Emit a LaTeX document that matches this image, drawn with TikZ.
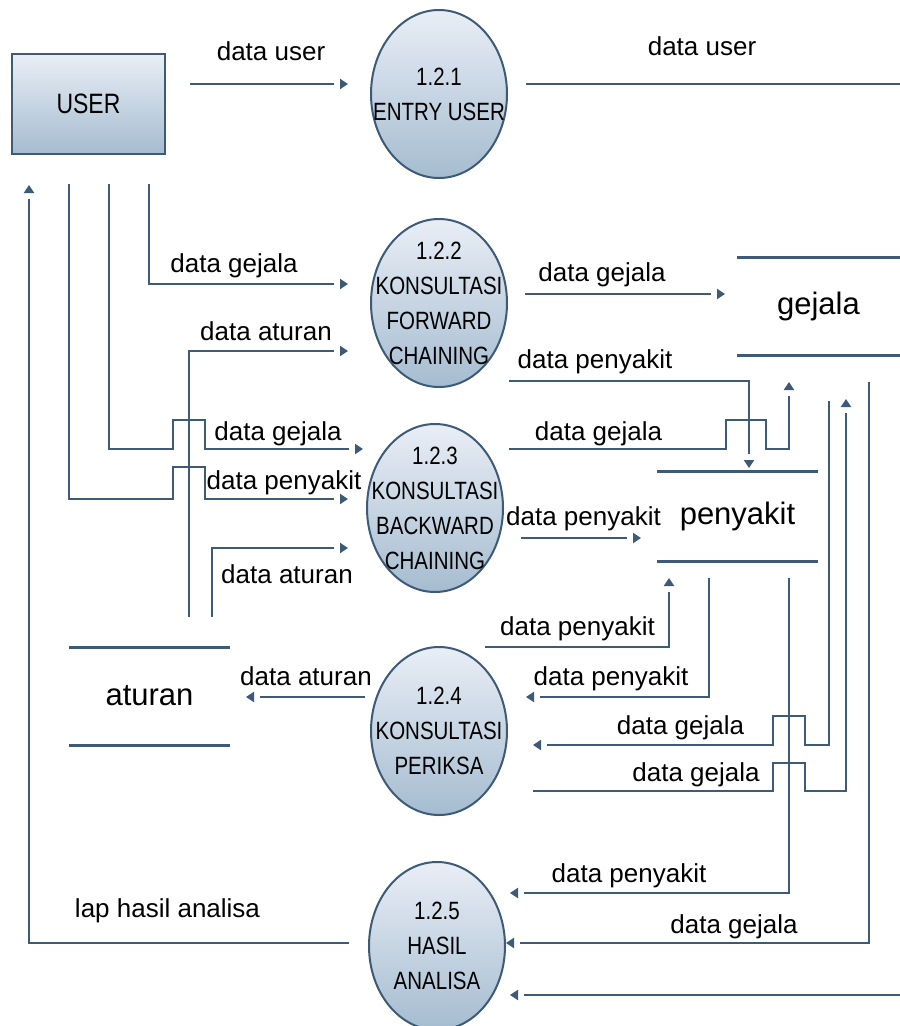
\documentclass[tikz,border=0pt]{standalone}
\usepackage{fontspec}
\setmainfont{Liberation Sans}
\newfontfamily\narrowfont[FakeStretch=0.82]{Liberation Sans}
\usetikzlibrary{shapes.geometric,arrows.meta,calc}
\definecolor{flowc}{RGB}{61,90,118}
\definecolor{shadetop}{RGB}{233,238,246}
\definecolor{shadebot}{RGB}{165,188,208}
\tikzset{
  process/.style={ellipse, draw=flowc, line width=2pt, top color=shadetop, bottom color=shadebot,
    minimum width=136pt, minimum height=168pt, inner sep=0pt, outer sep=0pt},
  proctext/.style={font=\narrowfont\fontsize{25}{35}\selectfont, align=center, inner sep=0pt},
  entity/.style={rectangle, draw=flowc, line width=2.5pt, top color=shadetop, bottom color=shadebot,
    minimum width=153pt, minimum height=100pt, outer sep=0pt, font=\narrowfont\fontsize{28}{30}\selectfont},
  store/.style={rectangle, minimum height=98pt, inner sep=0pt, outer sep=0pt, font=\fontsize{31}{33}\selectfont},
  storeline/.style={draw=flowc, line width=3pt},
  % the line stops short of its end; the head is drawn alone at the true end
  flow/.style={draw=flowc, line width=2.2pt, shorten >=14pt,
    postaction={draw=flowc, shorten >=0pt, dash pattern=on 0pt off 5000pt,
      -{Triangle[length=8pt,width=10pt]}}},
  wire/.style={draw=flowc, line width=2.2pt},
  flowlabel/.style={anchor=base, inner sep=0pt, font=\fontsize{26}{28}\selectfont},
}
\begin{document}
\begin{tikzpicture}[x=1pt,y=1pt]
\path[fill=white, use as bounding box] (0,0) rectangle (900,-1026);

% external entity
\node[entity] (user) at (88.5,-104) {USER};

% processes
\node[process, label={[proctext]center:{1.2.1\\ENTRY USER}}] (p121) at (439,-94) {};
\node[process, label={[proctext]center:{1.2.2\\KONSULTASI\\FORWARD\\CHAINING}}] (p122) at (439,-303) {};
\node[process, label={[proctext]center:{1.2.3\\KONSULTASI\\BACKWARD\\CHAINING}}] (p123) at (435,-508) {};
\node[process, label={[proctext]center:{1.2.4\\KONSULTASI\\PERIKSA}}] (p124) at (439,-731) {};
\node[process, label={[proctext]center:{1.2.5\\HASIL\\ANALISA}}] (p125) at (437,-946) {};

% data stores
\node[store, minimum width=163pt] (gejala) at (818.5,-306) {gejala};
\node[store, minimum width=161pt, minimum height=90pt] (penyakit) at (737.5,-516) {penyakit};
\node[store, minimum width=161pt] (aturan) at (149.5,-696) {aturan};
\foreach \s in {gejala,penyakit,aturan}{
  \draw[storeline] (\s.north west) -- (\s.north east);
  \draw[storeline] (\s.south west) -- (\s.south east);
}

% open ends at the right margin
\coordinate (edgeA) at (900,-84);
\coordinate (edgeB) at (900,-995);

% data flows
\draw[flow] ([shift={(25,20)}]user.east) -- ([shift={(-23,10)}]p121.west);
\draw[wire] ([shift={(19,10)}]p121.east) -- (edgeA);
\draw[flow] ([shift={(-20,3)}]p125.west) -| ([shift={(17,-31)}]user.south west);
\draw[flow] ([shift={(60.5,-30)}]user.south) |- ([shift={(-23,19)}]p122.west);
\draw[flow] ([shift={(20.5,-30)}]user.south) -- ++(0,-265) -- ++(64,0) -- ++(0,29) -- ++(32,0) -- ++(0,-29)
  -- ([shift={(-4,59)}]p123.west);
\draw[flow] ([shift={(-19.5,-30)}]user.south) -- ++(0,-315) -- ++(104,0) -- ++(0,32) -- ++(32,0) -- ++(0,-32)
  -- ([shift={(-19,9)}]p123.west);
\draw[flow] ([shift={(39.5,30)}]aturan.north) |- ([shift={(-23,-48)}]p122.west);
\draw[flow] ([shift={(62.5,30)}]aturan.north) |- ([shift={(-19,-40)}]p123.west);
\draw[flow] ([shift={(18,9)}]p122.east) -- ([shift={(-12,12)}]gejala.west);
\draw[flow] ([shift={(70,6)}]p122.south) -| ([shift={(11.5,3)}]penyakit.north);
\draw[flow] ([shift={(6,59)}]p123.east) -- ++(217,0) -- ++(0,29) -- ++(40,0) -- ++(0,-29) -- ++(23,0)
  -- ([shift={(-29.5,-27)}]gejala.south);
\draw[flow] ([shift={(18,-30)}]p123.east) -- ([shift={(-16,-22)}]penyakit.west);
\draw[flow] ([shift={(46,0)}]p124.north) -| ([shift={(-68.5,-17)}]penyakit.south);
\draw[flow] ([shift={(-28.5,-17)}]penyakit.south) |- ([shift={(19,34)}]p124.east);
\draw[flow] ([shift={(10.5,-46)}]gejala.south) -- ++(0,-344) -- ++(-24,0) -- ++(0,29) -- ++(-32,0) -- ++(0,-29)
  -- ([shift={(26,-14)}]p124.east);
\draw[flow] ([shift={(26,-60)}]p124.east) -- ++(240,0) -- ++(0,28) -- ++(32,0) -- ++(0,-28) -- ++(41,0)
  -- ([shift={(27.5,-44)}]gejala.south);
\draw[flow] ([shift={(51.5,-17)}]penyakit.south) |- ([shift={(5,53)}]p125.east);
\draw[flow] ([shift={(50.5,-27)}]gejala.south) |- ([shift={(1,3)}]p125.east);
\draw[flow] (edgeB) -- ([shift={(5,-49)}]p125.east);
\draw[flow] ([shift={(-6,34)}]p124.west) -- ([shift={(16,-1)}]aturan.east);

% flow labels
\node[flowlabel] (l1) at (271,-60) {data user};
\node[flowlabel] (l2) at (702,-55) {data user};
\node[flowlabel] (l3) at (234,-272) {data gejala};
\node[flowlabel] (l4) at (266,-340) {data aturan};
\node[flowlabel] (l5) at (278,-440) {data gejala};
\node[flowlabel] (l6) at (284,-489) {data penyakit};
\node[flowlabel] (l7) at (287,-583) {data aturan};
\node[flowlabel] (l8) at (602,-281) {data gejala};
\node[flowlabel] (l9) at (595,-368) {data penyakit};
\node[flowlabel] (l10) at (598.5,-440) {data gejala};
\node[flowlabel] (l11) at (583.5,-525) {data penyakit};
\node[flowlabel] (l12) at (577.5,-635) {data penyakit};
\node[flowlabel] (l13) at (611,-685) {data penyakit};
\node[flowlabel] (l14) at (680.5,-734) {data gejala};
\node[flowlabel] (l15) at (696,-781) {data gejala};
\node[flowlabel] (l16) at (629,-882) {data penyakit};
\node[flowlabel] (l17) at (734,-933) {data gejala};
\node[flowlabel] (l18) at (306,-685) {data aturan};
\node[flowlabel] (l19) at (167.5,-917) {lap hasil analisa};
\end{tikzpicture}
\end{document}
